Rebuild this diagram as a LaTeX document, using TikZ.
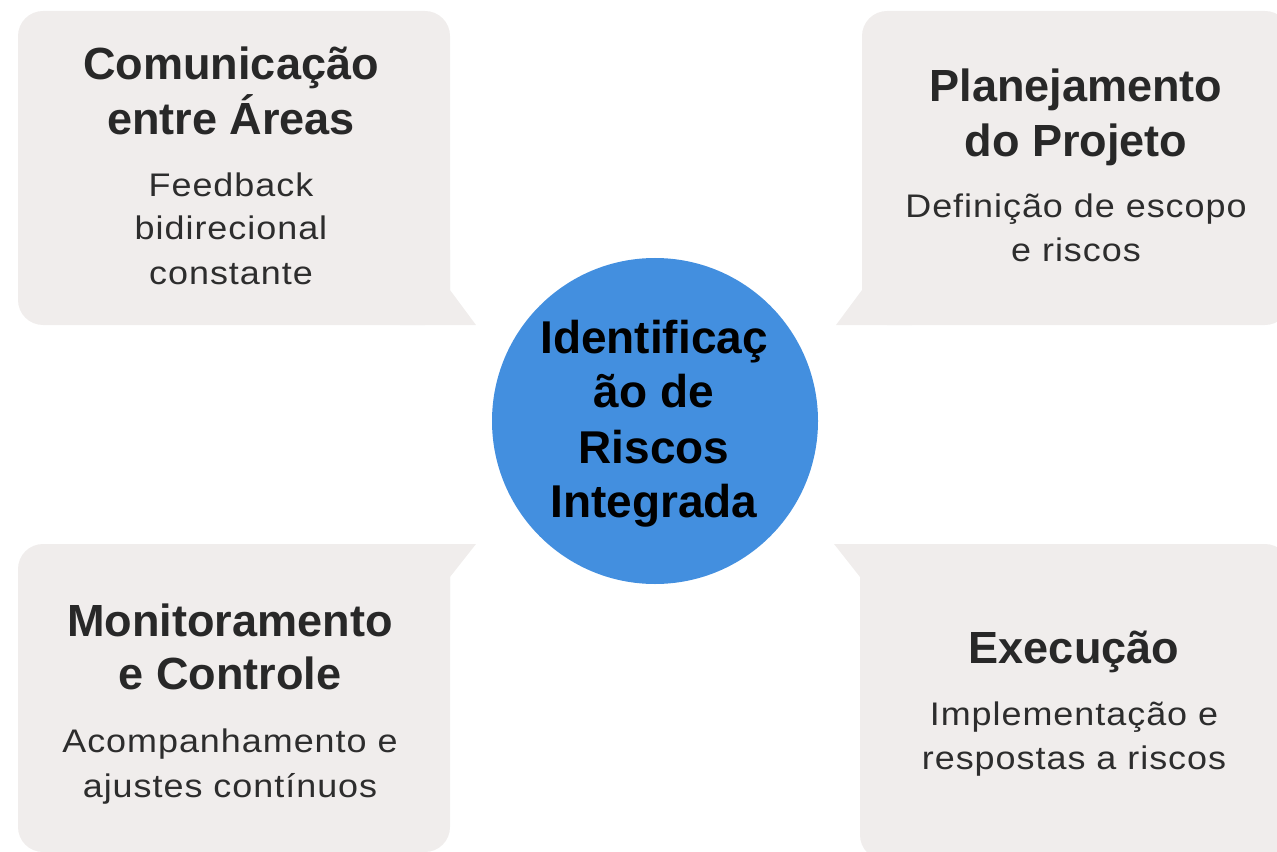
\documentclass[tikz,border=0pt]{standalone}
\usepackage{fontspec}
\setmainfont{Liberation Sans}
\newfontfamily\bodyfont{Liberation Sans}[FakeStretch=1.1, LetterSpace=3]
\definecolor{boxgray}{RGB}{240,237,236}
\definecolor{hubblue}{RGB}{67,143,223}
\definecolor{headc}{RGB}{40,40,40}
\definecolor{bodyc}{RGB}{45,45,45}
\begin{document}
\begin{tikzpicture}[x=0.75pt,y=-0.75pt,
  boxbg/.style={fill=boxgray},
  head/.style={font=\fontsize{33.8}{41}\selectfont\bfseries, text=headc, inner sep=0pt, anchor=base},
  body/.style={font=\bodyfont\fontsize{24.5}{33}\selectfont, text=bodyc, inner sep=0pt, anchor=base},
  hubtext/.style={font=\fontsize{34.5}{41}\selectfont\bfseries, text=black, inner sep=0pt, anchor=base}]
\useasboundingbox (0,0) rectangle (1277,852);
% top-left box
\fill[boxbg, rounded corners=25*0.75pt] (18,11) rectangle (450,325);
\fill[boxbg] (450,250) -- (450,290) -- (476,325) -- (400,325) -- (400,250) -- cycle;
% top-right box
\fill[boxbg, rounded corners=25*0.75pt] (862,11) rectangle (1290,325);
\fill[boxbg] (862,250) -- (862,290) -- (836,325) -- (912,325) -- (912,250) -- cycle;
% bottom-left box
\fill[boxbg, rounded corners=25*0.75pt] (18,544) rectangle (450,852);
\fill[boxbg] (450,620) -- (450,577) -- (476,544) -- (400,544) -- (400,620) -- cycle;
% bottom-right box
\fill[boxbg, rounded corners=25*0.75pt] (860,544) rectangle (1290,860);
\fill[boxbg] (860,620) -- (860,577) -- (834,544) -- (910,544) -- (910,620) -- cycle;
% hub
\node[circle, fill=hubblue, minimum size=244.5pt, inner sep=0pt] (hub) at (655,421) {};
\node[hubtext] (h1) at (654,353) {Identificaç};
\node[hubtext] (h2) at (654,407) {ão de};
\node[hubtext] (h3) at (654,463) {Riscos};
\node[hubtext] (h4) at (654,517) {Integrada};
% top-left text
\node[head] (tl1) at (231,80) {Comunicação};
\node[head] (tl2) at (231,135) {entre Áreas};
\node[body] (tl3) at (231,197) {Feedback};
\node[body] (tl4) at (231,240) {bidirecional};
\node[body] (tl5) at (231,285) {constante};
% top-right text
\node[head] (tr1) at (1076,102) {Planejamento};
\node[head] (tr2) at (1076,157) {do Projeto};
\node[body] (tr3) at (1076,218) {Definição de escopo};
\node[body] (tr4) at (1076,262) {e riscos};
% bottom-left text
\node[head] (bl1) at (230,636) {Monitoramento};
\node[head] (bl2) at (230,689) {e Controle};
\node[body] (bl3) at (230,752) {Acompanhamento e};
\node[body] (bl4) at (230,797) {ajustes contínuos};
% bottom-right text
\node[head] (br1) at (1074,663) {Execução};
\node[body] (br2) at (1074,725) {Implementação e};
\node[body] (br3) at (1074,769) {respostas a riscos};
\end{tikzpicture}
\end{document}
